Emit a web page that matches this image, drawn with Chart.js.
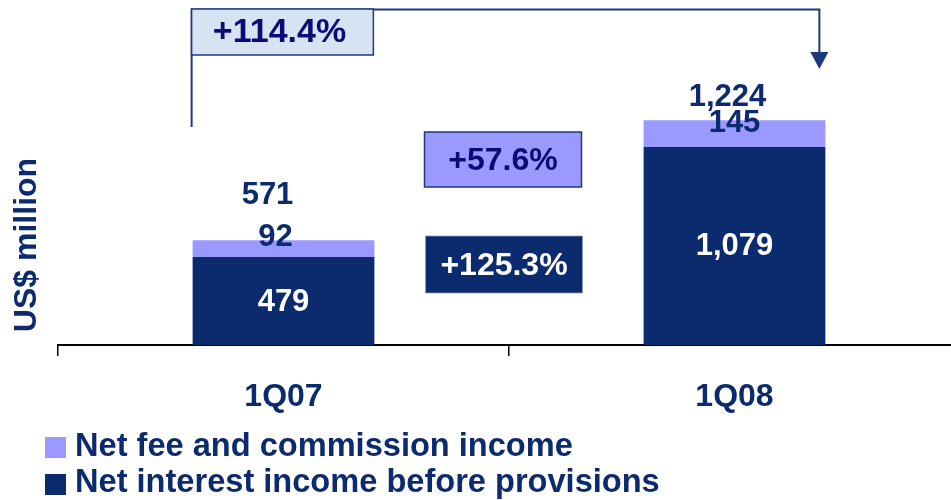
<!DOCTYPE html>
<html>
<head>
<meta charset="utf-8">
<script src="https://cdn.jsdelivr.net/npm/chart.js@4/dist/chart.umd.min.js"></script>
<style>
  html, body { margin: 0; padding: 0; background: #ffffff; overflow: hidden; }
  #wrap { width: 975px; height: 500px; }
</style>
</head>
<body>
<div id="wrap"><canvas id="c" width="975" height="500"></canvas></div>
<script>
// ---- data ----
const categories = ['1Q07', '1Q08'];
const netInterestIncome = [479, 1079];
const netFeeIncome = [92, 145];
const seriesNames = ['Net interest income before provisions', 'Net fee and commission income'];
const growthTotal = '+114.4%';
const growthFee = '+57.6%';
const growthInterest = '+125.3%';
const yAxisTitle = 'US$ million';

// ---- styles ----
const NAVY = '#0c2a6e';
const LIGHT = '#9999ff';
const TEXT_NAVY = '#0c2a6e';
const BOX_TEXT = '#0b0b78';
const LINE = '#1c3a7c';
const FONT = '"Liberation Sans", Arial, sans-serif';

function fmt(v) { return v.toLocaleString('en-US'); }

const overlay = {
  id: 'overlay',
  afterDatasetsDraw(chart) {
    const ctx = chart.ctx;
    const m0 = chart.getDatasetMeta(0).data;
    const m1 = chart.getDatasetMeta(1).data;
    ctx.save();
    ctx.textAlign = 'center';
    ctx.textBaseline = 'middle';
    ctx.font = 'bold 31px ' + FONT;
    // per-bar label nudges (layout only)
    const totalNudge = [[-16, -45], [-7, -23]];
    const feeNudge = [[-8, -11], [0, -10]];
    for (let i = 0; i < categories.length; i++) {
      const b0 = m0[i], b1 = m1[i];
      ctx.fillStyle = '#ffffff';
      ctx.fillText(fmt(netInterestIncome[i]), b0.x, (b0.y + b0.base) / 2 + 1);
      ctx.fillStyle = TEXT_NAVY;
      ctx.fillText(fmt(netFeeIncome[i]), b1.x + feeNudge[i][0], (b1.y + b1.base) / 2 + feeNudge[i][1]);
      ctx.fillText(fmt(netInterestIncome[i] + netFeeIncome[i]), b1.x + totalNudge[i][0], b1.y + totalNudge[i][1]);
    }

    // bracket with arrow from bar 1 to bar 2
    const a = m0[0], b = m1[1];
    const xL = a.x - a.width / 2 - 1;
    const xR = b.x + b.width / 2 - 6;
    const yTop = 9.5;
    ctx.strokeStyle = LINE;
    ctx.lineWidth = 2;
    ctx.beginPath();
    ctx.moveTo(xL, 127);
    ctx.lineTo(xL, yTop);
    ctx.lineTo(xR, yTop);
    ctx.lineTo(xR, 53);
    ctx.stroke();
    ctx.fillStyle = LINE;
    ctx.beginPath();
    ctx.moveTo(xR - 9, 52);
    ctx.lineTo(xR + 9, 52);
    ctx.lineTo(xR, 69);
    ctx.closePath();
    ctx.fill();

    // box +114.4%
    const bx = xL, bw = a.width;
    ctx.fillStyle = '#d7e2f2';
    ctx.fillRect(bx, 9, bw, 46);
    ctx.lineWidth = 1.5;
    ctx.strokeStyle = LINE;
    ctx.strokeRect(bx, 9, bw, 46);
    ctx.fillStyle = BOX_TEXT;
    ctx.font = 'bold 34px ' + FONT;
    ctx.fillText(growthTotal, bx + bw / 2 - 3, 33);

    // middle boxes
    ctx.font = 'bold 32px ' + FONT;
    const mid = (a.x + a.width / 2 + b.x - b.width / 2) / 2 - 6;
    const mw = 157;
    ctx.fillStyle = LIGHT;
    ctx.fillRect(mid - mw / 2, 132, mw, 55);
    ctx.strokeStyle = LINE;
    ctx.lineWidth = 1.5;
    ctx.strokeRect(mid - mw / 2, 132, mw, 55);
    ctx.fillStyle = BOX_TEXT;
    ctx.fillText(growthFee, mid, 161);

    ctx.fillStyle = NAVY;
    ctx.fillRect(mid - mw / 2 + 1, 236, mw, 57);
    ctx.strokeStyle = '#8fa0c8';
    ctx.lineWidth = 0.75;
    ctx.strokeRect(mid - mw / 2 + 1, 236, mw, 57);
    ctx.fillStyle = '#ffffff';
    ctx.fillText(growthInterest, mid + 1, 266);

    // y axis title
    ctx.save();
    ctx.translate(27, 245);
    ctx.rotate(-Math.PI / 2);
    ctx.fillStyle = TEXT_NAVY;
    ctx.font = 'bold 32px ' + FONT;
    ctx.fillText(yAxisTitle, 0, 0);
    ctx.restore();

    // legend (fee first, then interest)
    const legendItems = [
      { text: seriesNames[1], color: LIGHT },
      { text: seriesNames[0], color: NAVY }
    ];
    ctx.textAlign = 'left';
    ctx.textBaseline = 'alphabetic';
    ctx.font = 'bold 32.6px ' + FONT;
    legendItems.forEach((it, k) => {
      const top = 437 + k * 37;
      ctx.fillStyle = it.color;
      ctx.fillRect(45, top, 21, 21);
      ctx.fillStyle = TEXT_NAVY;
      ctx.fillText(it.text, 75, top + 19 - k);
    });
    ctx.restore();
  }
};

new Chart(document.getElementById('c'), {
  type: 'bar',
  data: {
    labels: categories,
    datasets: [
      { label: seriesNames[0], data: netInterestIncome, backgroundColor: NAVY, borderWidth: 0 },
      { label: seriesNames[1], data: netFeeIncome, backgroundColor: LIGHT, borderWidth: 0 }
    ]
  },
  options: {
    responsive: false,
    animation: false,
    devicePixelRatio: 1,
    layout: { padding: { left: 58, right: 15, top: 20, bottom: 75 } },
    plugins: { legend: { display: false }, tooltip: { enabled: false }, title: { display: false } },
    datasets: { bar: { categoryPercentage: 1, barPercentage: 0.403 } },
    scales: {
      x: {
        stacked: true,
        offset: true,
        grid: { display: true, drawOnChartArea: false, drawTicks: true, tickLength: 11, color: '#000000', lineWidth: 1.5, offset: true },
        border: { display: true, color: '#000000', width: 2 },
        ticks: { color: TEXT_NAVY, font: { family: FONT, size: 32, weight: 'bold' }, padding: 22 },
        afterFit(scale) { scale.height = 80; }
      },
      y: {
        stacked: true,
        display: false,
        min: 0,
        max: 1770
      }
    }
  },
  plugins: [overlay]
});
</script>
</body>
</html>
